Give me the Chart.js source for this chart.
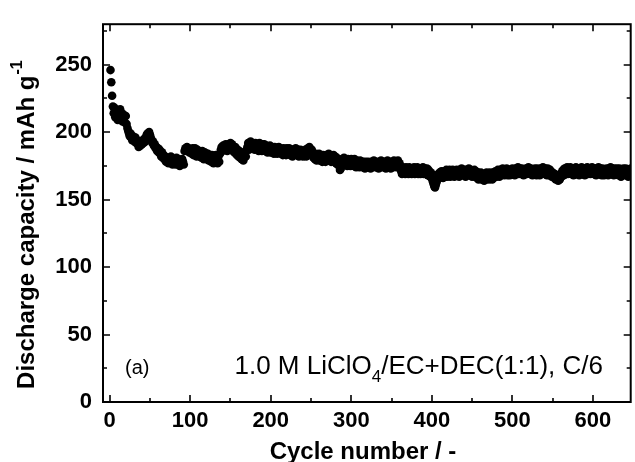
<!DOCTYPE html>
<html>
<head>
<meta charset="utf-8">
<script src="https://cdn.jsdelivr.net/npm/chart.js@4.4.1/dist/chart.umd.min.js"></script>
<style>
  html, body { margin: 0; padding: 0; background: #fff; }
</style>
</head>
<body>
<canvas id="chart" width="635" height="462"></canvas>
<script>
// discharge capacity (mAh/g), one value per cycle
const capacity = [
  246, 237, 227, 219, 214, 218, 211, 216, 213, 209,
  215, 212, 217, 210, 214, 208, 213, 211, 207, 212,
  206, 203, 201, 199, 197, 199, 196, 194, 197, 195,
  193, 196, 192, 194, 191, 189, 192, 190, 193, 191,
  194, 192, 195, 193, 196, 198, 199, 197, 200, 198,
  196, 194, 192, 193, 190, 191, 188, 189, 186, 188,
  185, 187, 184, 182, 185, 181, 183, 180, 182, 178,
  181, 179, 177, 180, 178, 182, 179, 176, 180, 177,
  179, 176, 181, 178, 180, 177, 175, 179, 177, 180,
  178, 176, 186, 188, 187, 189, 186, 188, 185, 187,
  187, 184, 188, 183, 186, 188, 184, 182, 187, 183,
  186, 182, 185, 181, 186, 182, 180, 185, 181, 184,
  180, 184, 179, 183, 181, 178, 183, 179, 177, 182,
  178, 183, 179, 177, 182, 178, 184, 187, 189, 186,
  190, 188, 187, 191, 188, 186, 191, 187, 190, 192,
  187, 191, 186, 189, 185, 189, 184, 183, 187, 182,
  186, 181, 185, 180, 184, 179, 183, 185, 182, 187,
  189, 192, 187, 191, 193, 189, 192, 188, 191, 187,
  192, 188, 191, 189, 186, 192, 188, 190, 186, 191,
  187, 191, 186, 190, 188, 185, 189, 186, 190, 185,
  189, 185, 188, 184, 189, 186, 188, 184, 187, 189,
  185, 188, 184, 187, 183, 188, 185, 187, 183, 188,
  186, 184, 188, 183, 187, 185, 182, 187, 184, 186,
  188, 184, 183, 187, 182, 186, 187, 183, 186, 182,
  186, 183, 187, 182, 185, 188, 186, 189, 187, 184,
  187, 183, 181, 184, 180, 184, 179, 183, 180, 184,
  179, 183, 181, 178, 183, 179, 182, 178, 183, 180,
  182, 184, 179, 183, 178, 182, 180, 183, 178, 182,
  177, 181, 176, 180, 175, 172, 173, 177, 180, 177,
  181, 176, 180, 177, 175, 180, 176, 179, 175, 180,
  176, 179, 175, 180, 176, 174, 179, 175, 178, 174,
  179, 175, 178, 174, 178, 175, 173, 178, 174, 177,
  178, 174, 177, 173, 178, 174, 177, 179, 175, 174,
  178, 174, 177, 173, 178, 175, 179, 174, 178, 175,
  174, 178, 173, 177, 179, 174, 178, 175, 173, 177,
  178, 174, 179, 175, 178, 174, 177, 179, 174, 177,
  173, 171, 169, 174, 170, 173, 169, 174, 170, 173,
  169, 174, 170, 173, 169, 173, 170, 174, 169, 173,
  170, 174, 169, 173, 170, 169, 173, 170, 174, 169,
  173, 170, 169, 173, 168, 172, 169, 167, 170, 166,
  164, 162, 160, 159, 161, 163, 165, 169, 166, 170,
  167, 171, 168, 166, 171, 167, 170, 172, 167, 171,
  168, 172, 167, 171, 168, 172, 169, 167, 171, 168,
  172, 168, 171, 167, 172, 168, 173, 169, 168, 172,
  169, 167, 172, 168, 171, 173, 168, 172, 169, 167,
  171, 168, 172, 167, 171, 166, 170, 165, 169, 166,
  170, 165, 169, 166, 164, 169, 165, 170, 166, 169,
  165, 170, 166, 169, 165, 170, 166, 169, 171, 167,
  170, 172, 169, 167, 172, 168, 171, 173, 169, 168,
  172, 169, 173, 168, 172, 169, 168, 172, 169, 173,
  169, 172, 168, 173, 169, 172, 174, 169, 173, 170,
  169, 173, 170, 168, 172, 169, 173, 169, 172, 174,
  170, 169, 173, 170, 168, 172, 169, 173, 170, 168,
  173, 169, 172, 168, 173, 169, 172, 174, 170, 169,
  173, 170, 168, 173, 169, 168, 172, 169, 167, 170,
  167, 166, 169, 165, 168, 166, 164, 168, 165, 169,
  167, 171, 172, 168, 173, 169, 172, 174, 169, 173,
  170, 174, 169, 173, 170, 168, 173, 170, 174, 169,
  173, 170, 168, 173, 170, 174, 169, 173, 170, 168,
  173, 170, 174, 169, 171, 173, 169, 170, 174, 170,
  169, 173, 170, 168, 173, 170, 174, 169, 173, 170,
  168, 173, 170, 168, 172, 169, 173, 170, 168, 173,
  170, 174, 169, 173, 170, 168, 173, 170, 169, 173,
  170, 168, 173, 170, 167, 172, 169, 173, 170, 168,
  173, 169, 171, 167, 172, 169, 173, 168, 171, 169
]
const cycles = capacity.map((_, i) => i + 1)

const xMajor = [0, 100, 200, 300, 400, 500, 600]
const xMinor = [50, 150, 250, 350, 450, 550, 650]
const yMajor = [0, 50, 100, 150, 200, 250]
const yMinor = [25, 75, 125, 175, 225, 275]

const xTitle = 'Cycle number / -'
const yTitle = ['Discharge capacity / mAh g', '-1']
const panelLabel = '(a)'
const electrolyte = ['1.0 M LiClO', '4', '/EC+DEC(1:1), C/6']

const FONT = "'Liberation Sans', Arial, sans-serif"

// box, inward ticks on all four sides, titles and the in-plot notes
const framePlugin = {
  id: 'frame',
  afterDraw(chart) {
    const { ctx, chartArea: a, scales: { x, y } } = chart
    ctx.save()
    ctx.strokeStyle = '#000'
    ctx.lineWidth = 2
    ctx.strokeRect(a.left, a.top, a.right - a.left, a.bottom - a.top)

    ctx.lineWidth = 1.6
    ctx.beginPath()
    const xt = (vals, len) => vals.forEach(v => {
      const px = Math.round(x.getPixelForValue(v))
      if (px < a.left || px > a.right) return
      ctx.moveTo(px, a.bottom); ctx.lineTo(px, a.bottom - len)
      ctx.moveTo(px, a.top); ctx.lineTo(px, a.top + len)
    })
    const yt = (vals, len) => vals.forEach(v => {
      const py = Math.round(y.getPixelForValue(v))
      if (py < a.top || py > a.bottom) return
      ctx.moveTo(a.left, py); ctx.lineTo(a.left + len, py)
      ctx.moveTo(a.right, py); ctx.lineTo(a.right - len, py)
    })
    xt(xMajor, 7); xt(xMinor, 4)
    yt(yMajor, 7); yt(yMinor, 4)
    ctx.stroke()

    ctx.fillStyle = '#000'

    // x title
    ctx.font = 'bold 24px ' + FONT
    ctx.textAlign = 'center'
    ctx.textBaseline = 'middle'
    ctx.fillText(xTitle, 363, 452)

    // y title with superscript
    ctx.save()
    ctx.translate(26, (a.top + a.bottom) / 2 + 12)
    ctx.rotate(-Math.PI / 2)
    ctx.font = 'bold 24px ' + FONT
    const w1 = ctx.measureText(yTitle[0]).width
    ctx.font = 'bold 16px ' + FONT
    const w2 = ctx.measureText(yTitle[1]).width
    const sx = -(w1 + w2) / 2
    ctx.textAlign = 'left'
    ctx.textBaseline = 'alphabetic'
    ctx.font = 'bold 24px ' + FONT
    ctx.fillText(yTitle[0], sx, 8)
    ctx.font = 'bold 16px ' + FONT
    ctx.fillText(yTitle[1], sx + w1 + 1, -4)
    ctx.restore()

    // panel label and electrolyte note
    ctx.textAlign = 'left'
    ctx.textBaseline = 'alphabetic'
    ctx.font = '20px ' + FONT
    ctx.fillText(panelLabel, x.getPixelForValue(19), y.getPixelForValue(21))

    let px = x.getPixelForValue(155)
    const base = y.getPixelForValue(21)
    ctx.font = '26px ' + FONT
    ctx.fillText(electrolyte[0], px, base)
    px += ctx.measureText(electrolyte[0]).width
    ctx.font = '17px ' + FONT
    ctx.fillText(electrolyte[1], px, base + 8)
    px += ctx.measureText(electrolyte[1]).width
    ctx.font = '26px ' + FONT
    ctx.fillText(electrolyte[2], px, base)
    ctx.restore()
  }
}

const ctx = document.getElementById('chart').getContext('2d')
new Chart(ctx, {
  type: 'scatter',
  data: {
    datasets: [{
      data: cycles.map((c, i) => ({ x: c, y: capacity[i] })),
      backgroundColor: '#000',
      borderWidth: 0,
      pointRadius: 4.3,
      pointHoverRadius: 4.3,
      clip: 0
    }]
  },
  options: {
    responsive: false,
    animation: false,
    events: [],
    layout: { padding: { top: 10, right: 1, left: 0, bottom: 0 } },
    plugins: { legend: { display: false }, tooltip: { enabled: false } },
    scales: {
      x: {
        type: 'linear',
        min: -8.3,
        max: 647,
        grid: { display: false, drawTicks: false },
        border: { display: false },
        afterBuildTicks: s => { s.ticks = xMajor.map(v => ({ value: v })) },
        afterFit: s => { s.height = 60 },
        ticks: {
          color: '#000',
          font: { family: FONT, size: 22, weight: 'bold' },
          padding: 6,
          maxRotation: 0,
          autoSkip: false
        }
      },
      y: {
        type: 'linear',
        min: 0,
        max: 280,
        grid: { display: false, drawTicks: false },
        border: { display: false },
        afterBuildTicks: s => { s.ticks = yMajor.map(v => ({ value: v })) },
        afterFit: s => { s.width = 103 },
        ticks: {
          color: '#000',
          font: { family: FONT, size: 22, weight: 'bold' },
          padding: 11,
          autoSkip: false
        }
      }
    }
  },
  plugins: [framePlugin]
})
</script>
</body>
</html>
